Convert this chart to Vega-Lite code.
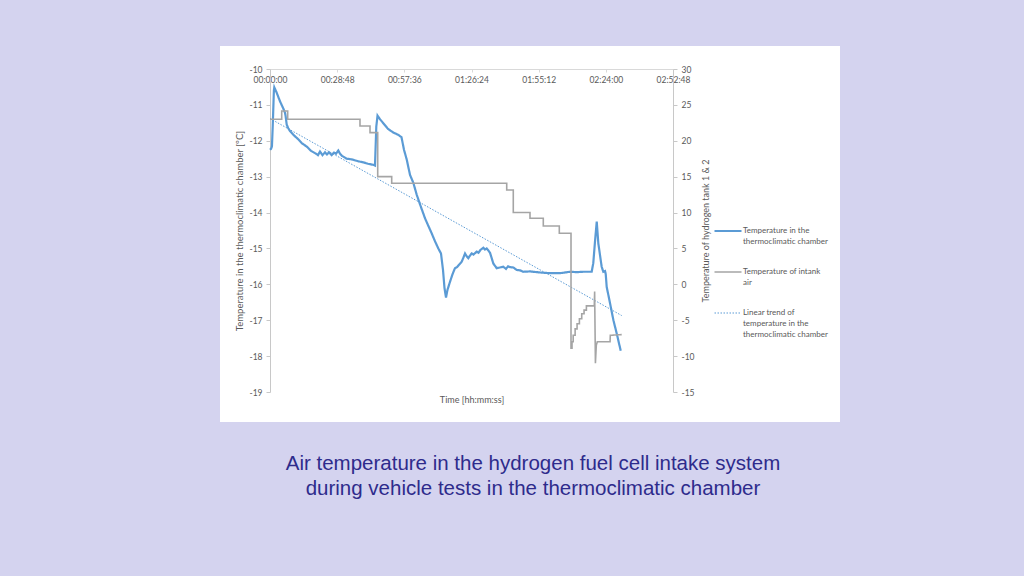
{
  "$schema": "https://vega.github.io/schema/vega-lite/v6.json",
  "width": 620,
  "height": 376,
  "autosize": {"type": "none"},
  "padding": {"left": 220, "top": 46, "right": 184, "bottom": 154},
  "background": "#d4d3ef",
  "view": {"fill": "#ffffff", "stroke": null},
  "config": {"font": "Lato"},
  "title": {
    "text": ["Air temperature in the hydrogen fuel cell intake system", "during vehicle tests in the thermoclimatic chamber"],
    "orient": "bottom",
    "anchor": "middle",
    "font": "Liberation Sans",
    "fontSize": 20.5,
    "fontWeight": "normal",
    "color": "#2e2b8c",
    "lineHeight": 25,
    "offset": 32,
    "dx": 3
  },
  "datasets": {
    "chamber": [
      {"t": 0, "v": -12.25}, {"t": 30, "v": -12.22}, {"t": 50, "v": -12.15}, {"t": 70, "v": -11.6},
      {"t": 100, "v": -10.6}, {"t": 111, "v": -10.51}, {"t": 172, "v": -10.66}, {"t": 257, "v": -10.9},
      {"t": 342, "v": -11.1}, {"t": 386, "v": -11.22}, {"t": 400, "v": -11.3}, {"t": 430, "v": -11.55},
      {"t": 470, "v": -11.65}, {"t": 515, "v": -11.73}, {"t": 617, "v": -11.85}, {"t": 720, "v": -11.95},
      {"t": 823, "v": -12.07}, {"t": 944, "v": -12.16}, {"t": 1055, "v": -12.28}, {"t": 1183, "v": -12.36},
      {"t": 1235, "v": -12.4}, {"t": 1286, "v": -12.3}, {"t": 1351, "v": -12.4}, {"t": 1415, "v": -12.32},
      {"t": 1466, "v": -12.38}, {"t": 1518, "v": -12.32}, {"t": 1587, "v": -12.4}, {"t": 1647, "v": -12.33},
      {"t": 1698, "v": -12.36}, {"t": 1757, "v": -12.27}, {"t": 1801, "v": -12.36}, {"t": 1852, "v": -12.42},
      {"t": 1973, "v": -12.5}, {"t": 2058, "v": -12.51}, {"t": 2143, "v": -12.53}, {"t": 2264, "v": -12.57},
      {"t": 2400, "v": -12.6}, {"t": 2521, "v": -12.64}, {"t": 2658, "v": -12.67}, {"t": 2701, "v": -12.69},
      {"t": 2735, "v": -11.6}, {"t": 2766, "v": -11.3}, {"t": 2830, "v": -11.4}, {"t": 2915, "v": -11.51},
      {"t": 3036, "v": -11.67}, {"t": 3172, "v": -11.77}, {"t": 3293, "v": -11.83}, {"t": 3383, "v": -11.9},
      {"t": 3447, "v": -12.25}, {"t": 3517, "v": -12.52}, {"t": 3602, "v": -12.95}, {"t": 3687, "v": -13.17},
      {"t": 3774, "v": -13.5}, {"t": 3859, "v": -13.77}, {"t": 3988, "v": -14.16}, {"t": 4065, "v": -14.35},
      {"t": 4160, "v": -14.58}, {"t": 4245, "v": -14.8}, {"t": 4330, "v": -15.0}, {"t": 4399, "v": -15.14},
      {"t": 4451, "v": -15.6}, {"t": 4489, "v": -16.1}, {"t": 4528, "v": -16.37}, {"t": 4567, "v": -16.15},
      {"t": 4631, "v": -15.93}, {"t": 4695, "v": -15.72}, {"t": 4759, "v": -15.55}, {"t": 4811, "v": -15.52},
      {"t": 4850, "v": -15.47}, {"t": 4932, "v": -15.37}, {"t": 4978, "v": -15.25}, {"t": 5017, "v": -15.14},
      {"t": 5061, "v": -15.22}, {"t": 5102, "v": -15.27}, {"t": 5145, "v": -15.2}, {"t": 5189, "v": -15.14},
      {"t": 5235, "v": -15.17}, {"t": 5318, "v": -15.09}, {"t": 5364, "v": -15.12}, {"t": 5416, "v": -15.04},
      {"t": 5488, "v": -14.98}, {"t": 5531, "v": -15.03}, {"t": 5575, "v": -15.0}, {"t": 5621, "v": -15.06},
      {"t": 5660, "v": -15.12}, {"t": 5698, "v": -15.25}, {"t": 5745, "v": -15.42}, {"t": 5832, "v": -15.55},
      {"t": 5917, "v": -15.53}, {"t": 6002, "v": -15.51}, {"t": 6072, "v": -15.57}, {"t": 6123, "v": -15.5},
      {"t": 6174, "v": -15.52}, {"t": 6259, "v": -15.53}, {"t": 6347, "v": -15.6}, {"t": 6432, "v": -15.61},
      {"t": 6517, "v": -15.65}, {"t": 6689, "v": -15.64}, {"t": 6946, "v": -15.67}, {"t": 7204, "v": -15.69},
      {"t": 7461, "v": -15.69}, {"t": 7718, "v": -15.65}, {"t": 7890, "v": -15.66}, {"t": 8060, "v": -15.65},
      {"t": 8276, "v": -15.65}, {"t": 8317, "v": -15.41}, {"t": 8362, "v": -14.8}, {"t": 8406, "v": -14.25},
      {"t": 8447, "v": -14.86}, {"t": 8533, "v": -15.51}, {"t": 8575, "v": -15.65}, {"t": 8620, "v": -15.63},
      {"t": 8638, "v": -15.72}, {"t": 8662, "v": -16.07}, {"t": 8749, "v": -16.53}, {"t": 8835, "v": -17.0},
      {"t": 8920, "v": -17.37}, {"t": 9023, "v": -17.85}
    ],
    "intank": [
      {"t": 0, "v": 23.0}, {"t": 301, "v": 23.0}, {"t": 301, "v": 24.15}, {"t": 455, "v": 24.15},
      {"t": 455, "v": 23.0}, {"t": 2315, "v": 23.0}, {"t": 2315, "v": 22.06}, {"t": 2573, "v": 22.06},
      {"t": 2573, "v": 21.13}, {"t": 2771, "v": 21.13}, {"t": 2771, "v": 15.0}, {"t": 3131, "v": 15.0},
      {"t": 3131, "v": 14.08}, {"t": 6090, "v": 14.08}, {"t": 6090, "v": 13.14}, {"t": 6259, "v": 13.14},
      {"t": 6259, "v": 10.0}, {"t": 6689, "v": 10.0}, {"t": 6689, "v": 9.2}, {"t": 7031, "v": 9.2},
      {"t": 7031, "v": 8.13}, {"t": 7443, "v": 8.13}, {"t": 7443, "v": 7.11}, {"t": 7744, "v": 7.11},
      {"t": 7744, "v": -8.9}, {"t": 7770, "v": -8.9}, {"t": 7770, "v": -8.0}, {"t": 7800, "v": -8.0},
      {"t": 7800, "v": -7.1}, {"t": 7850, "v": -7.1}, {"t": 7850, "v": -6.2}, {"t": 7900, "v": -6.2},
      {"t": 7900, "v": -5.5}, {"t": 7960, "v": -5.5}, {"t": 7960, "v": -4.8}, {"t": 8020, "v": -4.8},
      {"t": 8020, "v": -4.1}, {"t": 8080, "v": -4.1}, {"t": 8080, "v": -3.6}, {"t": 8140, "v": -3.6},
      {"t": 8140, "v": -3.0}, {"t": 8343, "v": -3.0}, {"t": 8352, "v": -1.0}, {"t": 8372, "v": -11.0},
      {"t": 8395, "v": -8.5}, {"t": 8420, "v": -8.0}, {"t": 8749, "v": -8.0}, {"t": 8755, "v": -7.1},
      {"t": 9048, "v": -7.0}
    ],
    "trend": [
      {"t": 0, "v": -11.38}, {"t": 9048, "v": -16.87}
    ]
  },
  "layer": [
    {
      "data": {"name": "chamber"},
      "mark": {"type": "line"},
      "encoding": {
        "x": {
          "field": "t", "type": "quantitative",
          "scale": {"domain": [0, 10368], "range": [50, 453], "nice": false, "zero": false},
          "axis": {
            "orient": "bottom", "offset": -353, "title": null, "grid": false,
            "values": [0, 1728, 3456, 5184, 6912, 8640, 10368],
            "labelExpr": "utcFormat(datum.value * 1000, '%H:%M:%S')",
            "domainColor": "#d9d9d9", "tickColor": "#d9d9d9", "tickSize": 3,
            "labelColor": "#595959", "labelFontSize": 8.5, "labelPadding": 3,
            "labelOverlap": false, "labelFlush": false, "labelBound": false
          }
        },
        "y": {
          "field": "v", "type": "quantitative",
          "scale": {"domain": [-19, -10], "range": [346, 23], "nice": false, "zero": false},
          "axis": {
            "orient": "left", "offset": -50, "grid": false,
            "values": [-19, -18, -17, -16, -15, -14, -13, -12, -11, -10],
            "labelExpr": "'' + datum.value",
            "title": "Temperature in the thermoclimatic chamber [ºC]",
            "titleFontSize": 9.5, "titleFontWeight": "normal", "titleColor": "#595959", "titlePadding": 4,
            "domainColor": "#c8c8c8", "tickColor": "#c8c8c8", "tickSize": 4,
            "labelColor": "#595959", "labelFontSize": 8.5, "labelPadding": 4
          }
        },
        "color": {
          "datum": "Temperature in the thermoclimatic chamber",
          "scale": {
            "domain": ["Temperature in the thermoclimatic chamber", "Temperature of intank air", "Linear trend of temperature in the thermoclimatic chamber"],
            "range": ["#5b9bd5", "#a5a5a5", "#5b9bd5"]
          },
          "legend": {
            "title": null, "orient": "none", "legendX": 493, "legendY": 170, "padding": 0,
            "symbolType": "stroke", "symbolSize": 729, "labelOffset": 0,
            "labelFontSize": 8, "labelColor": "#595959", "labelBaseline": "top", "labelLimit": 300,
            "rowPadding": 11.5,
            "labelExpr": "datum.label == 'Temperature in the thermoclimatic chamber' ? ['Temperature in the', 'thermoclimatic chamber'] : datum.label == 'Temperature of intank air' ? ['Temperature of intank', 'air'] : ['Linear trend of', 'temperature in the', 'thermoclimatic chamber']",
            "encode": {"labels": {"update": {"lineHeight": {"value": 11}, "dy": {"value": -4}, "fill": {"value": "#595959"}}}}
          }
        },
        "strokeDash": {
          "datum": "Temperature in the thermoclimatic chamber",
          "scale": {
            "domain": ["Temperature in the thermoclimatic chamber", "Temperature of intank air", "Linear trend of temperature in the thermoclimatic chamber"],
            "range": [[1, 0], [1, 0], [1.5, 1.5]]
          }
        },
        "strokeWidth": {
          "datum": "Temperature in the thermoclimatic chamber",
          "scale": {
            "type": "point",
            "domain": ["Temperature in the thermoclimatic chamber", "Temperature of intank air", "Linear trend of temperature in the thermoclimatic chamber"],
            "range": [2.2, 1]
          }
        }
      }
    },
    {
      "data": {"name": "trend"},
      "mark": {"type": "line"},
      "encoding": {
        "x": {"field": "t", "type": "quantitative", "axis": null},
        "y": {
          "field": "v", "type": "quantitative",
          "scale": {"domain": [-19, -10], "range": [346, 23], "nice": false, "zero": false},
          "axis": null
        },
        "color": {"datum": "Linear trend of temperature in the thermoclimatic chamber"},
        "strokeDash": {"datum": "Linear trend of temperature in the thermoclimatic chamber"},
        "strokeWidth": {"datum": "Linear trend of temperature in the thermoclimatic chamber"}
      }
    },
    {
      "data": {"name": "intank"},
      "mark": {"type": "line"},
      "encoding": {
        "x": {
          "field": "t", "type": "quantitative",
          "axis": {
            "orient": "top", "offset": -358, "title": "Time [hh:mm:ss]",
            "labels": false, "ticks": false, "domain": false, "grid": false,
            "titleFontSize": 9, "titleFontWeight": "normal", "titleColor": "#595959", "titlePadding": 0
          }
        },
        "y": {
          "field": "v", "type": "quantitative",
          "scale": {"domain": [-15, 30], "range": [346, 23], "nice": false, "zero": false},
          "axis": {
            "orient": "right", "offset": -167, "grid": false,
            "values": [-15, -10, -5, 0, 5, 10, 15, 20, 25, 30],
            "labelExpr": "'' + datum.value",
            "title": "Temperature of hydrogen tank 1 & 2",
            "titleAngle": 270, "titleBaseline": "top",
            "titleFontSize": 9, "titleFontWeight": "normal", "titleColor": "#595959", "titlePadding": 7,
            "domainColor": "#c8c8c8", "tickColor": "#c8c8c8", "tickSize": 4,
            "labelColor": "#595959", "labelFontSize": 8.5, "labelPadding": 4
          }
        },
        "color": {"datum": "Temperature of intank air"},
        "strokeDash": {"datum": "Temperature of intank air"},
        "strokeWidth": {"datum": "Temperature of intank air"}
      }
    }
  ],
  "resolve": {"scale": {"y": "independent"}, "axis": {"x": "independent", "y": "independent"}}
}
